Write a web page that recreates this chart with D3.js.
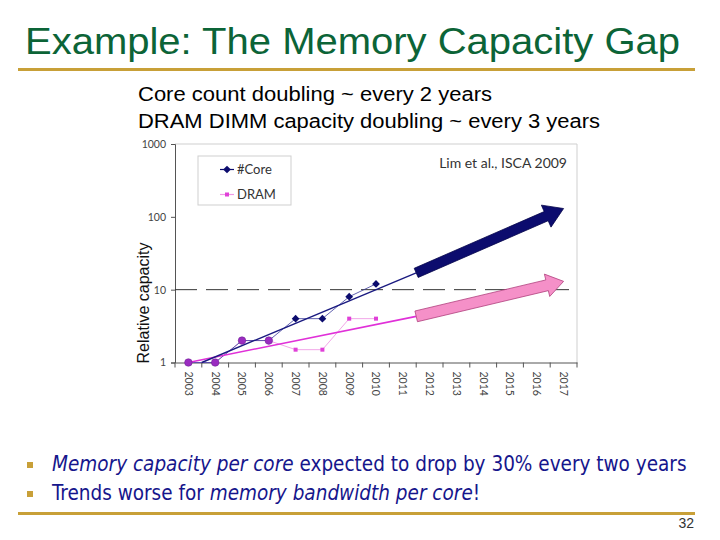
<!DOCTYPE html>
<html lang="en">
<head>
<meta charset="utf-8">
<title>Example: The Memory Capacity Gap</title>
<script src="https://d3js.org/d3.v7.min.js"></script>
<style>
	body { margin: 0; background: #fff; }
	svg { display: block; }
</style>
</head>
<body>
<script>
	// ---- data ----
	var years = ["2003", "2004", "2005", "2006", "2007", "2008", "2009", "2010",
		"2011", "2012", "2013", "2014", "2015", "2016", "2017"];
	var dataYears = [2003, 2004, 2005, 2006, 2007, 2008, 2009, 2010];
	var coreValues = [1, 1, 2, 2, 4, 4, 8, 12];
	var dramValues = [1, 1, 2, 2, 1.5, 1.5, 4, 4];

	// fitted trend lines and projection arrows
	var coreTrendYears = [2003.5, 2011.5],
		coreTrendValues = [1, 17];
	var coreArrowYears = [2011.5, 2017],
		coreArrowValues = [17, 130];
	var dramTrendYears = [2003, 2011.5],
		dramTrendValues = [1, 4.3];
	var dramArrowYears = [2011.5, 2017],
		dramArrowValues = [4.3, 13];

	var yTicks = [1, 10, 100, 1000];
	var refValue = 10;

	var seriesNames = ["#Core", "DRAM"];

	// ---- slide ----
	var svgWidth = 720, svgHeight = 540;
	var svg = d3.select("body").append("svg")
		.attr("width", svgWidth)
		.attr("height", svgHeight);

	var gold = "#c8a038",
		navy = "#0c0c6e",
		textBlue = "#16168c";

	svg.append("text")
		.attr("x", 25).attr("y", 54)
		.attr("font-family", "Liberation Sans, Arial, sans-serif")
		.attr("font-size", 36)
		.attr("fill", "#0c6437")
		.attr("textLength", 655)
		.attr("lengthAdjust", "spacingAndGlyphs")
		.text("Example: The Memory Capacity Gap");

	svg.append("rect")
		.attr("x", 18).attr("y", 68).attr("width", 677).attr("height", 3)
		.attr("fill", gold);

	var subs = [["Core count doubling ~ every 2 years", 101, 354],
		["DRAM DIMM capacity doubling ~ every 3 years", 128, 462]];
	svg.selectAll(".sub")
		.data(subs)
		.enter().append("text")
		.attr("class", "sub")
		.attr("x", 138)
		.attr("y", function(d) { return d[1]; })
		.attr("font-family", "Liberation Sans, Arial, sans-serif")
		.attr("font-size", 20)
		.attr("fill", "#000")
		.attr("textLength", function(d) { return d[2]; })
		.attr("lengthAdjust", "spacingAndGlyphs")
		.text(function(d) { return d[0]; });

	// ---- chart ----
	var plotLeft = 175, plotRight = 577, plotTop = 144, plotBottom = 362.5;

	var xBand = d3.scaleBand().domain(years).range([plotLeft, plotRight]);
	var x = d3.scaleLinear().domain([2002.5, 2017.5]).range([plotLeft, plotRight]);
	var y = d3.scaleLog().domain([1, 1000]).range([plotBottom, plotTop]);

	var chart = svg.append("g");

	// light frame on top and right
	chart.append("path")
		.attr("d", d3.line()([[plotLeft, plotTop], [plotRight, plotTop], [plotRight, plotBottom]]))
		.attr("fill", "none")
		.attr("stroke", "#cfcfcf")
		.attr("stroke-width", 1);

	// x axis: ticks between categories, labels rotated
	var xAxis = chart.append("g")
		.attr("transform", "translate(0," + plotBottom + ")")
		.call(d3.axisBottom(xBand).tickSize(0).tickFormat(""));
	xAxis.select(".domain").attr("stroke", "#555");
	chart.append("g")
		.selectAll("line")
		.data(years.concat(["end"]))
		.enter().append("line")
		.attr("x1", function(d, i) { return plotLeft + i * xBand.step(); })
		.attr("x2", function(d, i) { return plotLeft + i * xBand.step(); })
		.attr("y1", plotBottom)
		.attr("y2", plotBottom + 5)
		.attr("stroke", "#555");
	chart.append("g")
		.selectAll("text")
		.data(years)
		.enter().append("text")
		.attr("transform", function(d) {
			return "translate(" + (xBand(d) + xBand.bandwidth() / 2) + "," + (plotBottom + 9) + ") rotate(90)";
		})
		.attr("dy", "0.35em")
		.attr("font-family", "Lato, sans-serif")
		.attr("font-size", 10.5)
		.attr("fill", "#444")
		.text(function(d) { return d; });

	// y axis
	var yAxis = chart.append("g")
		.attr("transform", "translate(" + plotLeft + ",0)")
		.call(d3.axisLeft(y).tickValues(yTicks).tickSize(4).tickPadding(5)
			.tickFormat(d3.format("d")));
	yAxis.select(".domain").attr("stroke", "#555");
	yAxis.selectAll(".tick line").attr("stroke", "#555");
	yAxis.selectAll(".tick text")
		.attr("font-family", "Lato, sans-serif")
		.attr("font-size", 10.5)
		.attr("fill", "#444");

	chart.append("text")
		.attr("transform", "translate(149,303) rotate(-90)")
		.attr("text-anchor", "middle")
		.attr("font-family", "Liberation Sans, Arial, sans-serif")
		.attr("font-size", 16)
		.attr("fill", "#111")
		.text("Relative capacity");

	// dashed reference line at 10
	chart.append("line")
		.attr("x1", plotLeft).attr("x2", plotRight)
		.attr("y1", y(refValue)).attr("y2", y(refValue))
		.attr("stroke", "#333")
		.attr("stroke-width", 1)
		.attr("stroke-dasharray", "22,9");

	// data lines
	var lineGen = d3.line()
		.x(function(d) { return x(d[0]); })
		.y(function(d) { return y(d[1]); });

	var corePts = d3.zip(dataYears, coreValues);
	var dramPts = d3.zip(dataYears, dramValues);

	chart.append("path")
		.attr("d", lineGen(dramPts))
		.attr("fill", "none")
		.attr("stroke", "#f2a6e8")
		.attr("stroke-width", 1);
	chart.append("path")
		.attr("d", lineGen(corePts))
		.attr("fill", "none")
		.attr("stroke", "#3a3a9a")
		.attr("stroke-width", 0.8);

	// trend lines
	chart.append("path")
		.attr("d", lineGen(d3.zip(dramTrendYears, dramTrendValues)))
		.attr("fill", "none")
		.attr("stroke", "#e030d8")
		.attr("stroke-width", 1.6);
	chart.append("path")
		.attr("d", lineGen(d3.zip(coreTrendYears, coreTrendValues)))
		.attr("fill", "none")
		.attr("stroke", "#1a1a80")
		.attr("stroke-width", 1.4);

	// block arrows, built from two scaled points
	function arrowShape(p0, p1, bodyW, headW, headL) {
		var dx = p1[0] - p0[0], dy = p1[1] - p0[1],
			len = Math.sqrt(dx * dx + dy * dy),
			ux = dx / len, uy = dy / len,
			nx = -uy, ny = ux,
			bx = p1[0] - ux * headL, by = p1[1] - uy * headL;
		return [
			[p0[0] + nx * bodyW / 2, p0[1] + ny * bodyW / 2],
			[bx + nx * bodyW / 2, by + ny * bodyW / 2],
			[bx + nx * headW / 2, by + ny * headW / 2],
			p1,
			[bx - nx * headW / 2, by - ny * headW / 2],
			[bx - nx * bodyW / 2, by - ny * bodyW / 2],
			[p0[0] - nx * bodyW / 2, p0[1] - ny * bodyW / 2]
		];
	}

	var arrows = [
		{years: dramArrowYears, values: dramArrowValues, fill: "#f590c8", stroke: "#b0407e", body: 11, head: 23, headL: 17},
		{years: coreArrowYears, values: coreArrowValues, fill: navy, stroke: "#05054a", body: 10, head: 24, headL: 19}
	];
	chart.selectAll(".arrow")
		.data(arrows)
		.enter().append("path")
		.attr("class", "arrow")
		.attr("d", function(d) {
			var p0 = [x(d.years[0]), y(d.values[0])],
				p1 = [x(d.years[1]), y(d.values[1])];
			return d3.line()(arrowShape(p0, p1, d.body, d.head, d.headL)) + "Z";
		})
		.attr("fill", function(d) { return d.fill; })
		.attr("stroke", function(d) { return d.stroke; })
		.attr("stroke-width", 0.8);

	// markers: purple where both series coincide
	var diamond = d3.symbol().type(d3.symbolSquare).size(30);
	dataYears.forEach(function(yr, i) {
		if (coreValues[i] === dramValues[i]) {
			chart.append("circle")
				.attr("cx", x(yr)).attr("cy", y(coreValues[i]))
				.attr("r", 3.8)
				.attr("fill", "#9a2cc0")
				.attr("stroke", "#6a1a90")
				.attr("stroke-width", 0.5);
		} else {
			chart.append("rect")
				.attr("x", x(yr) - 2).attr("y", y(dramValues[i]) - 2)
				.attr("width", 4).attr("height", 4)
				.attr("fill", "#e040d8");
			chart.append("path")
				.attr("d", diamond)
				.attr("transform", "translate(" + x(yr) + "," + y(coreValues[i]) + ") rotate(45)")
				.attr("fill", navy);
		}
	});

	// legend
	var legend = chart.append("g");
	legend.append("rect")
		.attr("x", 198).attr("y", 156).attr("width", 93).attr("height", 49)
		.attr("fill", "#fff")
		.attr("stroke", "#cfcfcf");
	var legendItems = legend.selectAll(".li")
		.data(seriesNames)
		.enter().append("g")
		.attr("class", "li")
		.attr("transform", function(d, i) { return "translate(0," + (169.5 + i * 25) + ")"; });
	legendItems.append("line")
		.attr("x1", 220).attr("x2", 234)
		.attr("stroke", function(d, i) { return i === 0 ? navy : "#f09ae6"; })
		.attr("stroke-width", 1.2);
	legendItems.each(function(d, i) {
		var g = d3.select(this);
		if (i === 0) {
			g.append("path").attr("d", diamond).attr("transform", "translate(227,0) rotate(45)").attr("fill", navy);
		} else {
			g.append("rect").attr("x", 225).attr("y", -2).attr("width", 4).attr("height", 4).attr("fill", "#e040d8");
		}
	});
	legendItems.append("text")
		.attr("x", 237)
		.attr("dy", "0.35em")
		.attr("font-family", "Lato, sans-serif")
		.attr("font-size", 13)
		.attr("fill", "#333")
		.text(function(d) { return d; });

	chart.append("text")
		.attr("x", 567).attr("y", 168)
		.attr("text-anchor", "end")
		.attr("font-family", "Lato, sans-serif")
		.attr("font-size", 14)
		.attr("fill", "#333")
		.text("Lim et al., ISCA 2009");

	// ---- bullets ----
	var bullets = [
		[["Memory capacity per core", true], [" expected to drop by 30% every two years", false]],
		[["Trends worse for ", false], ["memory bandwidth per core", true], ["!", false]]
	];
	var bulletY = [471, 500];

	svg.selectAll(".bsq")
		.data(bulletY)
		.enter().append("rect")
		.attr("class", "bsq")
		.attr("x", 27).attr("y", function(d) { return d - 9; })
		.attr("width", 6).attr("height", 6)
		.attr("fill", gold);

	var bt = svg.selectAll(".btxt")
		.data(bullets)
		.enter().append("text")
		.attr("class", "btxt")
		.attr("x", 52)
		.attr("y", function(d, i) { return bulletY[i]; })
		.attr("font-family", "DejaVu Sans Condensed, DejaVu Sans, sans-serif")
		.attr("font-size", 19)
		.attr("fill", textBlue);
	bt.selectAll("tspan")
		.data(function(d) { return d; })
		.enter().append("tspan")
		.attr("font-style", function(d) { return d[1] ? "italic" : "normal"; })
		.text(function(d) { return d[0]; });
	// scale first line to its width on the slide, reuse the same size for the second
	var firstW = bt.node().getComputedTextLength();
	var fs = 19 * 635 / firstW;
	bt.attr("font-size", fs);

	svg.append("rect")
		.attr("x", 18).attr("y", 512).attr("width", 677).attr("height", 3)
		.attr("fill", gold);

	svg.append("text")
		.attr("x", 694).attr("y", 528)
		.attr("text-anchor", "end")
		.attr("font-family", "Liberation Sans, Arial, sans-serif")
		.attr("font-size", 14)
		.attr("fill", "#333")
		.text("32");
</script>
</body>
</html>
